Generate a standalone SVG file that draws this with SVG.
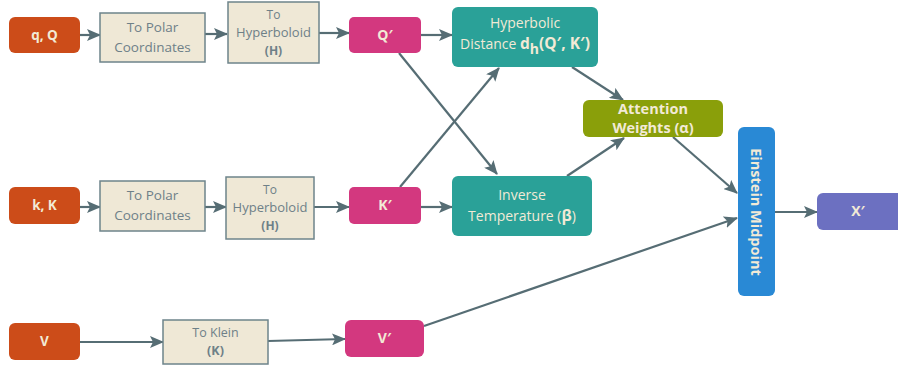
<svg xmlns="http://www.w3.org/2000/svg" width="898" height="366" viewBox="0 0 898 366">
<style>
.in{fill:#CC4C19}
.pk{fill:#D3387F}
.tl{fill:#2AA198}
.bg{fill:#EFE8D6;stroke:#6E848B;stroke-width:1.5}
.lt{font-family:"Open Sans",Lato,sans-serif;fill:#F2EAD6;text-anchor:middle}
.gt{font-family:"Open Sans",Lato,sans-serif;fill:#6E8088;text-anchor:middle}
.b{font-weight:bold}
.c{stroke:#566D74;stroke-width:2.2;fill:none;marker-end:url(#ah)}
</style>
<defs>
<marker id="ah" markerUnits="userSpaceOnUse" markerWidth="14" markerHeight="12" refX="13" refY="6" orient="auto">
<path d="M0,0 L14,6 L0,12 L3,6 Z" fill="#566D74"/>
</marker>
</defs>
<g id="connectors">
<line class="c" x1="80" y1="35" x2="100" y2="35"/>
<line class="c" x1="205" y1="34" x2="227" y2="34"/>
<line class="c" x1="319" y1="33" x2="349" y2="33"/>
<line class="c" x1="421" y1="35" x2="452" y2="35"/>
<line class="c" x1="80" y1="207" x2="100" y2="207"/>
<line class="c" x1="205" y1="207" x2="226" y2="207"/>
<line class="c" x1="314" y1="207" x2="349" y2="207"/>
<line class="c" x1="421" y1="207" x2="452" y2="207"/>
<line class="c" x1="399" y1="53" x2="497" y2="174"/>
<line class="c" x1="400" y1="187" x2="499" y2="68"/>
<line class="c" x1="572" y1="67" x2="623" y2="100"/>
<line class="c" x1="567" y1="176" x2="624" y2="138"/>
<line class="c" x1="673" y1="137" x2="737" y2="193"/>
<line class="c" x1="775" y1="212" x2="817" y2="212"/>
<line class="c" x1="80" y1="342" x2="163" y2="342"/>
<line class="c" x1="268" y1="341" x2="345" y2="339"/>
<line class="c" x1="424" y1="326" x2="737" y2="218"/>
</g>
<g id="qQ">
<rect class="in" x="9" y="17" width="71" height="36" rx="6"/>
<text class="lt b" x="44.5" y="40" font-size="13.5">q, Q</text>
</g>
<g id="polar1">
<rect class="bg" x="100" y="13" width="105" height="49"/>
<text class="gt" x="152.5" y="32" font-size="13.5">To Polar</text>
<text class="gt" x="152.5" y="52" font-size="13.5">Coordinates</text>
</g>
<g id="hyp1">
<rect class="bg" x="228" y="2" width="91" height="61"/>
<text class="gt" x="273.5" y="19" font-size="12">To</text>
<text class="gt" x="273.5" y="37" font-size="13">Hyperboloid</text>
<text class="gt b" x="273.5" y="55" font-size="12">(H)</text>
</g>
<g id="Qp">
<rect class="pk" x="349" y="17" width="72" height="36" rx="5"/>
<text class="lt b" x="385" y="40" font-size="14">Q′</text>
</g>
<g id="hypdist">
<rect class="tl" x="452" y="7" width="146" height="60" rx="6"/>
<text class="lt" x="525" y="28" font-size="14">Hyperbolic</text>
<text class="lt" x="525" y="49" font-size="14">Distance <tspan class="b" font-size="15.5">d</tspan><tspan class="b" font-size="14" dy="5">h</tspan><tspan class="b" font-size="15.5" dy="-5">(Q′, K′)</tspan></text>
</g>
<g id="kK">
<rect class="in" x="9" y="187" width="71" height="37" rx="6"/>
<text class="lt b" x="44.5" y="210" font-size="13.5">k, K</text>
</g>
<g id="polar2">
<rect class="bg" x="100" y="181" width="105" height="50"/>
<text class="gt" x="152.5" y="200" font-size="13.5">To Polar</text>
<text class="gt" x="152.5" y="220" font-size="13.5">Coordinates</text>
</g>
<g id="hyp2">
<rect class="bg" x="226" y="177" width="88" height="62"/>
<text class="gt" x="270" y="194" font-size="12">To</text>
<text class="gt" x="270" y="212" font-size="13">Hyperboloid</text>
<text class="gt b" x="270" y="230" font-size="12">(H)</text>
</g>
<g id="Kp">
<rect class="pk" x="349" y="187" width="72" height="37" rx="5"/>
<text class="lt b" x="385" y="210" font-size="14">K′</text>
</g>
<g id="invtemp">
<rect class="tl" x="452" y="176" width="140" height="60" rx="6"/>
<text class="lt" x="522" y="200" font-size="14">Inverse</text>
<text class="lt" x="522" y="221" font-size="14">Temperature (<tspan class="b" font-size="15.5">β</tspan>)</text>
</g>
<g id="attn">
<rect x="583" y="100" width="140" height="37" rx="6" fill="#8A9F0A"/>
<text class="lt b" x="653" y="114" font-size="14.5">Attention</text>
<text class="lt b" x="653" y="133" font-size="14.5">Weights (α)</text>
</g>
<g id="einstein">
<rect x="738" y="127" width="37" height="169" rx="6" fill="#2989D5"/>
<text class="lt b" x="0" y="0" font-size="14.5" transform="translate(751,212) rotate(90)">Einstein Midpoint</text>
</g>
<g id="Xp">
<rect x="817" y="193" width="90" height="37" rx="6" fill="#6C70C1"/>
<text class="lt b" x="858" y="216" font-size="14">X′</text>
</g>
<g id="V">
<rect class="in" x="9" y="323" width="71" height="37" rx="6"/>
<text class="lt b" x="44.5" y="346" font-size="13.5">V</text>
</g>
<g id="klein">
<rect class="bg" x="163" y="320" width="105" height="44"/>
<text class="gt" x="215.5" y="337" font-size="12.5">To Klein</text>
<text class="gt b" x="215.5" y="355" font-size="12.5">(K)</text>
</g>
<g id="Vp">
<rect class="pk" x="345" y="320" width="79" height="37" rx="6"/>
<text class="lt b" x="384.5" y="343" font-size="14">V′</text>
</g>
</svg>
